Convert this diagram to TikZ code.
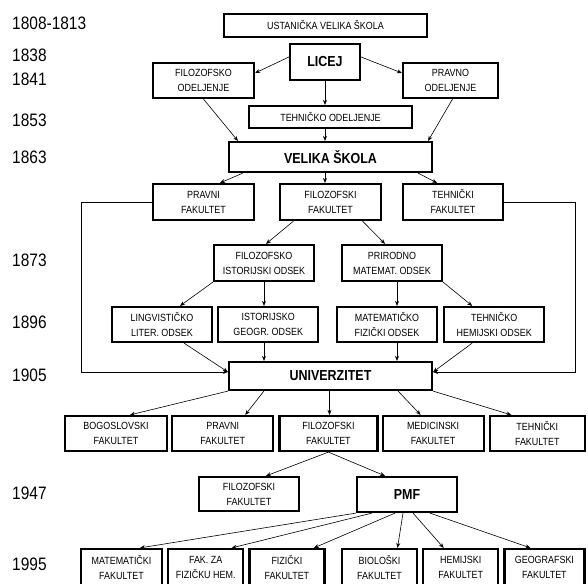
\documentclass[tikz,border=0pt]{standalone}
\usepackage{fontspec}
\setmainfont{Liberation Sans}[FakeStretch=0.86]
\usepackage{tikz}
\usetikzlibrary{positioning, arrows.meta}
\tikzstyle{kutija} = [rectangle, draw=black, line width=2.2pt, align=center, inner sep=0pt, font=\fontsize{10.4}{15}\selectfont]
\tikzstyle{glavna} = [kutija, font=\fontsize{14.5}{16}\selectfont\bfseries]
\tikzstyle{godina} = [anchor=west, inner sep=0pt, font=\fontsize{18}{20}\selectfont]
\tikzstyle{arrow} = [-{Stealth[length=5pt, width=4pt]}, line width=0.6pt]

\begin{document}
\begin{tikzpicture}[x=1pt, y=-1pt]
    	\path[use as bounding box, clip] (0,0) rectangle (588,583);

    	% godine
    	\node[godina] (g1) at (12,23.7) {1808-1813};
    	\node[godina] (g2) at (12,55) {1838};
    	\node[godina] (g3) at (12,79.2) {1841};
    	\node[godina] (g4) at (12,120) {1853};
    	\node[godina] (g5) at (12,157.5) {1863};
    	\node[godina] (g6) at (12,260.7) {1873};
    	\node[godina] (g7) at (12,322) {1896};
    	\node[godina] (g8) at (12,375) {1905};
    	\node[godina] (g9) at (12,493) {1947};
    	\node[godina] (g10) at (12,564) {1995};

    	\node[kutija, minimum width=203pt, minimum height=23pt] (ust) at (325.5,25.5) {USTANIČKA VELIKA ŠKOLA};
    	\node[glavna, minimum width=70pt, minimum height=36pt] (licej) at (325,62) {LICEJ};
    	\node[kutija, minimum width=101pt, minimum height=35pt] (filodj) at (203.5,80.5) {FILOZOFSKO\\ODELJENJE};
    	\node[kutija, minimum width=95pt, minimum height=35pt] (pravodj) at (450.5,80.5) {PRAVNO\\ODELJENJE};
    	\node[kutija, minimum width=163pt, minimum height=22pt] (tehodj) at (330.5,117) {TEHNIČKO ODELJENJE};
    	\node[glavna, minimum width=203pt, minimum height=30pt] (velika) at (330.5,157) {VELIKA ŠKOLA};

    	\node[kutija, minimum width=101pt, minimum height=36pt] (pravfak) at (203.5,202) {PRAVNI\\FAKULTET};
    	\node[kutija, minimum width=101pt, minimum height=36pt] (filfak) at (330.5,202) {FILOZOFSKI\\FAKULTET};
    	\node[kutija, minimum width=100pt, minimum height=36pt] (tehfak) at (453,202) {TEHNIČKI\\FAKULTET};

    	\node[kutija, minimum width=100pt, minimum height=36pt] (fio) at (264,263) {FILOZOFSKO\\ISTORIJSKI ODSEK};
    	\node[kutija, minimum width=100pt, minimum height=36pt] (pmo) at (392,263) {PRIRODNO\\MATEMAT. ODSEK};

    	\node[kutija, minimum width=100pt, minimum height=35pt] (ling) at (162,324.5) {LINGVISTIČKO\\LITER. ODSEK};
    	\node[kutija, minimum width=100pt, minimum height=35pt, right=4pt of ling] (istgeo) {ISTORIJSKO\\GEOGR. ODSEK};
    	\node[kutija, minimum width=100pt, minimum height=35pt] (matfiz) at (387,324.5) {MATEMATIČKO\\FIZIČKI ODSEK};
    	\node[kutija, minimum width=100pt, minimum height=35pt, right=5pt of matfiz] (tehhem) {TEHNIČKO\\HEMIJSKI ODSEK};

    	\node[glavna, minimum width=203pt, minimum height=28pt] (univ) at (330.5,376) {UNIVERZITET};

    	\node[kutija, minimum width=102pt, minimum height=35pt] (bog) at (116,433.5) {BOGOSLOVSKI\\FAKULTET};
    	\node[kutija, minimum width=101pt, minimum height=35pt, right=3pt of bog] (prav) {PRAVNI\\FAKULTET};
    	\node[kutija, minimum width=98pt, minimum height=35pt, right=4pt of prav] (fil) {FILOZOFSKI\\FAKULTET};
    	\node[kutija, minimum width=101pt, minimum height=35pt, right=3pt of fil] (med) {MEDICINSKI\\FAKULTET};
    	\node[kutija, minimum width=95pt, minimum height=35pt, right=4pt of med] (teh) {TEHNIČKI\\FAKULTET};

    	\node[kutija, minimum width=100pt, minimum height=34pt] (filfak2) at (249,494) {FILOZOFSKI\\FAKULTET};
    	\node[glavna, minimum width=100pt, minimum height=35pt] (pmf) at (407,494.5) {PMF};

    	\node[kutija, minimum width=81pt, minimum height=36pt] (mat) at (121.5,567) {MATEMATIČKI\\FAKULTET};
    	\node[kutija, minimum width=75pt, minimum height=36pt, right=4pt of mat] (fakza) {FAK. ZA\\FIZIČKU HEM.};
    	\node[kutija, minimum width=75pt, minimum height=36pt, right=4pt of fakza] (fiz) {FIZIČKI\\FAKULTET};
    	\node[kutija, minimum width=75pt, minimum height=36pt] (bio) at (379.5,567) {BIOLOŠKI\\FAKULTET};
    	\node[kutija, minimum width=75pt, minimum height=36pt, right=4pt of bio] (hem) {HEMIJSKI\\FAKULTET};
    	\node[kutija, minimum width=80pt, minimum height=36pt, right=4pt of hem] (geo) {GEOGRAFSKI\\FAKULTET};

    	\draw[arrow] ([yshift=5pt]licej.west) -- ([yshift=7.5pt]filodj.east);
    	\draw[arrow] ([yshift=5pt]licej.east) -- ([yshift=7.5pt]pravodj.west);
    	\draw[arrow] (licej.south) -- (licej.south |- tehodj.north);

    	\draw[arrow] (filodj.south) -- ([xshift=10pt]velika.north west);
    	\draw[arrow] ([xshift=2pt]pravodj.south) -- ([xshift=-5pt]velika.north east);
    	\draw[arrow] (licej.south |- tehodj.south) -- (licej.south |- velika.north);

    	\draw[arrow] ([xshift=15pt]velika.south west) -- ([xshift=16.5pt]pravfak.north);
    	\draw[arrow] (licej.south |- velika.south) -- (licej.south |- filfak.north);
    	\draw[arrow] ([xshift=-15pt]velika.south east) -- ([xshift=-16pt]tehfak.north);

    	\draw[arrow] ([xshift=-37pt]filfak.south) -- ([xshift=2pt]fio.north);
    	\draw[arrow] ([xshift=32pt]filfak.south) -- ([xshift=-7pt]pmo.north);

    	\draw[arrow] (fio.south west) -- ([xshift=18pt]ling.north);
    	\draw[arrow] (fio.south) -- (fio.south |- istgeo.north);
    	\draw[arrow] ([xshift=5pt]pmo.south) -- ([xshift=5pt]pmo.south |- matfiz.north);
    	\draw[arrow] (pmo.south east) -- ([xshift=-22pt]tehhem.north);

    	\draw[arrow] ([xshift=22pt]ling.south) -- ([yshift=4pt]univ.west);
    	\draw[arrow] (fio.south |- istgeo.south) -- (fio.south |- univ.north);
    	\draw[arrow] ([xshift=5pt]pmo.south |- matfiz.south) -- ([xshift=5pt]pmo.south |- univ.north);
    	\draw[arrow] ([xshift=-22pt]tehhem.south) -- ([yshift=4pt]univ.east);
    	\draw[arrow] (pravfak.west) -- ++(-71,0) |- ([yshift=4pt]univ.west);
    	\draw[arrow] (tehfak.east) -- ++(71,0) |- ([yshift=4pt]univ.east);

    	\draw[arrow] (univ.south west) -- ([xshift=14pt]bog.north);
    	\draw[arrow] ([xshift=36pt]univ.south west) -- ([xshift=22.5pt]prav.north);
    	\draw[arrow] ([xshift=-1pt]univ.south) -- ([xshift=-1pt]univ.south |- fil.north);
    	\draw[arrow] ([xshift=-35pt]univ.south east) -- ([xshift=-12.5pt]med.north);
    	\draw[arrow] (univ.south east) -- ([xshift=-26pt]teh.north);

    	\draw[arrow] (fil.south) -- ([xshift=17pt]filfak2.north);
    	\draw[arrow] (fil.south) -- ([xshift=-22pt]pmf.north);

    	\draw[arrow] (pmf.south west) -- ([xshift=18.5pt]mat.north);
    	\draw[arrow] ([xshift=-35pt]pmf.south) -- ([xshift=26pt]fakza.north);
    	\draw[arrow] ([xshift=-12pt]pmf.south) -- ([xshift=27pt]fiz.north);
    	\draw[arrow] ([xshift=-4pt]pmf.south) -- ([xshift=18pt]bio.north);
    	\draw[arrow] ([xshift=6pt]pmf.south) -- ([xshift=-17pt]hem.north);
    	\draw[arrow] ([xshift=23pt]pmf.south) -- ([xshift=-14pt]geo.north);

\end{tikzpicture}
\end{document}
